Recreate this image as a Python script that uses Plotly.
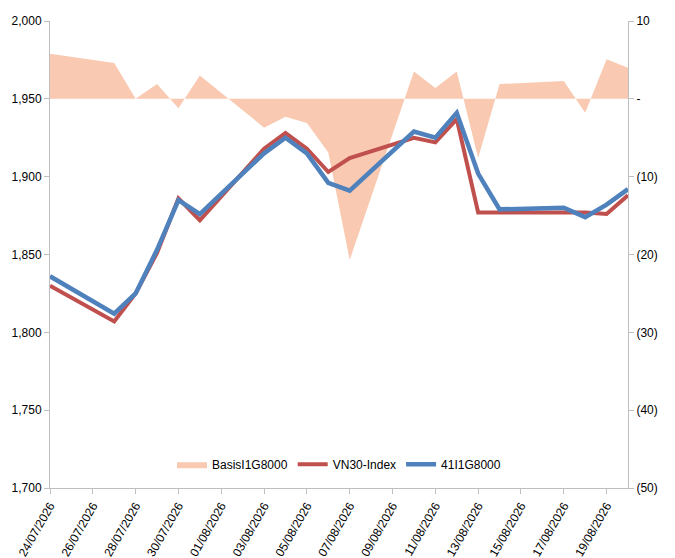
import plotly.graph_objects as go

dates = ["2026-07-24", "2026-07-27", "2026-07-28", "2026-07-29", "2026-07-30", "2026-07-31",
         "2026-08-03", "2026-08-04", "2026-08-05", "2026-08-06", "2026-08-07",
         "2026-08-10", "2026-08-11", "2026-08-12", "2026-08-13", "2026-08-14",
         "2026-08-17", "2026-08-18", "2026-08-19", "2026-08-20"]
vn30 = [1830, 1807, 1825, 1851, 1886, 1872, 1918, 1928, 1918, 1903, 1912,
        1925, 1922, 1937, 1877, 1877, 1877, 1877, 1876, 1888]
fut = [1836, 1812, 1825, 1853, 1885, 1876, 1915, 1925, 1915, 1896, 1891,
       1929, 1925, 1941, 1902, 1879, 1880, 1874, 1882, 1892]
basis = [5.8, 4.6, 0, 1.9, -1.2, 3.0, -3.7, -2.3, -3.1, -6.9, -20.7,
         3.5, 1.4, 3.5, -7.6, 1.9, 2.3, -1.8, 5.1, 4.0]

right_vals = [10, 0, -10, -20, -30, -40, -50]
right_text = ["10", "-", "(10)", "(20)", "(30)", "(40)", "(50)"]

fig = go.Figure()
# basis on the base axis (right side) so the index lines draw on top of it
fig.add_trace(go.Scatter(x=dates, y=basis, name="BasisI1G8000", mode="lines",
                         line=dict(width=0, color="#f9c9b1"), fill="tozeroy",
                         fillcolor="#f9c9b1", yaxis="y"))
fig.add_trace(go.Scatter(x=dates, y=vn30, name="VN30-Index", mode="lines",
                         line=dict(width=4, color="#c0504d"), yaxis="y2"))
fig.add_trace(go.Scatter(x=dates, y=fut, name="41I1G8000", mode="lines",
                         line=dict(width=4.5, color="#4f81bd"), yaxis="y2"))

fig.update_layout(
    width=675, height=558,
    margin=dict(l=42, r=55, t=13, b=78),
    plot_bgcolor="white", paper_bgcolor="white",
    font=dict(family="Liberation Sans, Arial", size=12, color="black"),
    showlegend=True,
    legend=dict(orientation="h", x=0.5, xanchor="center", y=0.02, yanchor="bottom",
                bgcolor="rgba(0,0,0,0)", font=dict(size=12)),
    xaxis=dict(type="date", range=["2026-07-24", "2026-08-20"],
               tick0="2026-07-24", dtick=2 * 86400000, tickformat="%d/%m/%Y",
               tickangle=-60, showgrid=False, showline=True, linecolor="#bfbfbf",
               ticks="outside", tickcolor="#bfbfbf", automargin=False),
    yaxis=dict(range=[-50, 10], side="right", tickvals=right_vals,
               ticktext=right_text, showgrid=False, showline=True, linecolor="#bfbfbf",
               ticks="outside", tickcolor="#bfbfbf", zeroline=False, automargin=False),
    yaxis2=dict(range=[1700, 2000], dtick=50, tickformat=",", overlaying="y", side="left",
                showgrid=False, showline=True, linecolor="#bfbfbf", ticks="outside",
                tickcolor="#bfbfbf", zeroline=False, automargin=False),
)

fig.write_html("out.html")
